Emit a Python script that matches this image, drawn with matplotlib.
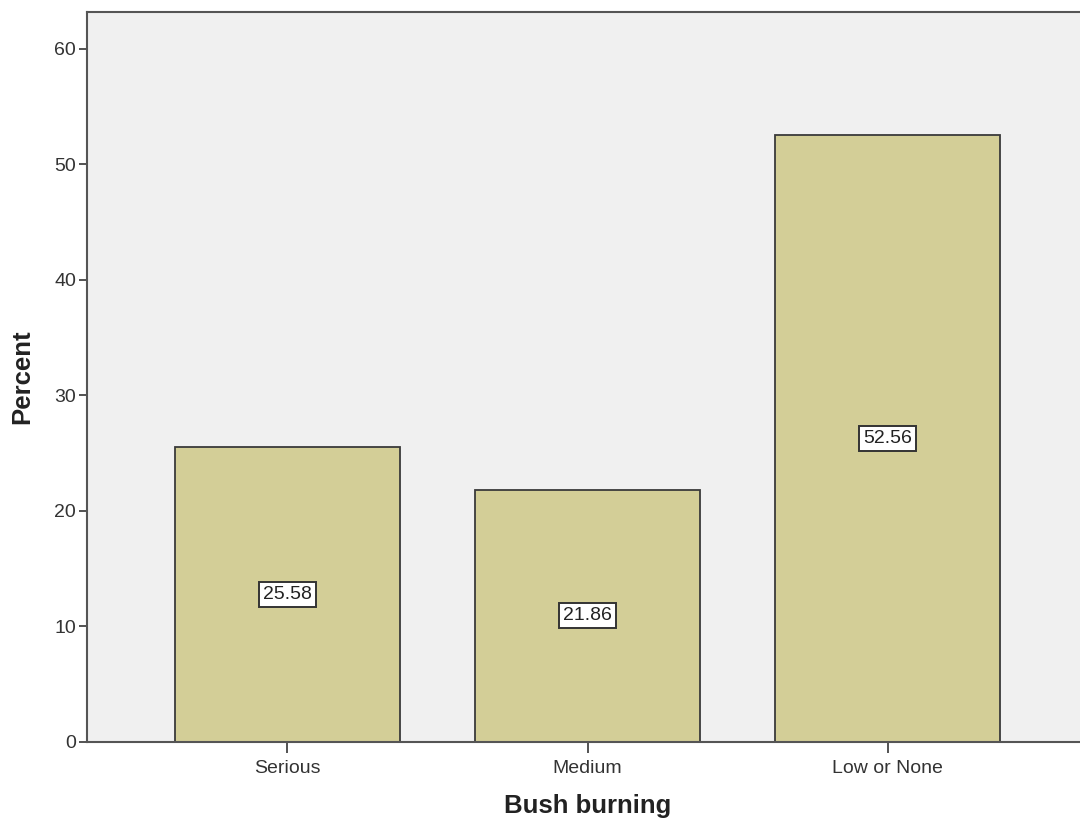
import matplotlib
matplotlib.use("Agg")
import matplotlib.pyplot as plt

categories = ["Serious", "Medium", "Low or None"]
percent = [25.58, 21.86, 52.56]
yticks = [0, 10, 20, 30, 40, 50, 60]

plt.rcParams['font.family'] = ['Liberation Sans', 'DejaVu Sans']

fig = plt.figure(figsize=(10.8, 8.25), dpi=100)
ax = fig.add_axes([87/1080, 1-742/825, 1001/1080, 730/825])
ax.set_facecolor('#f0f0f0')

x = list(range(len(categories)))
bars = ax.bar(x, percent, width=0.75, color='#d3ce97', edgecolor='#3a3a3a', linewidth=1.3, zorder=2)
for xi, v in zip(x, percent):
    ax.text(xi, v/2, f"{v:.2f}", ha='center', va='center', fontsize=14, color='#222222',
            bbox=dict(boxstyle='square,pad=0.2', facecolor='white', edgecolor='#333333', linewidth=1.4), zorder=3)

ax.set_xlim(-0.668, 2.668)
ax.set_ylim(0, 63.2)
ax.set_xticks(x)
ax.set_xticklabels(categories, fontsize=14, color='#333333')
ax.set_yticks(yticks)
ax.set_yticklabels([str(t) for t in yticks], fontsize=14, color='#333333')
ax.tick_params(axis='y', direction='out', length=6, width=1.3, color='#444444', pad=2)
ax.tick_params(axis='x', direction='out', length=8, width=1.3, color='#444444', pad=5)
for s in ax.spines.values():
    s.set_color('#555555')
    s.set_linewidth(1.5)

ax.set_xlabel("Bush burning", fontsize=18.5, fontweight='bold', color='#222222', labelpad=12)
ax.set_ylabel("Percent", fontsize=18.5, fontweight='bold', color='#222222', labelpad=14)

fig.savefig("out.png", dpi=100)
